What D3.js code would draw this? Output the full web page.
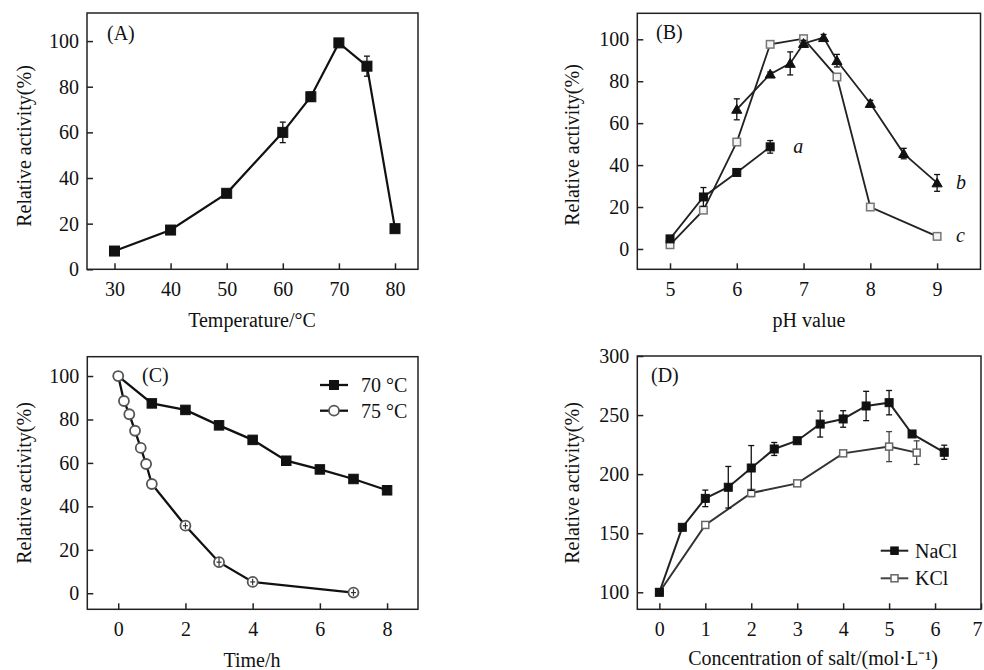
<!DOCTYPE html>
<html><head><meta charset="utf-8">
<script src="https://cdn.jsdelivr.net/npm/d3@7"></script>
<style>
body{margin:0;background:#fff;overflow:hidden}
text{font-family:"Liberation Serif","Times New Roman",serif;fill:#111}
</style>
</head><body>
<svg id="chart" width="984" height="670"></svg>
<script>
// ---------- DATA ----------
// (A) temperature
const tempX = [30, 40, 50, 60, 65, 70, 75, 80];
const tempY = [8, 17.2, 33.3, 60, 75.6, 99.2, 89, 17.8];
const tempErr = [0.5, 0.5, 0.8, 4.5, 2, 1, 4.4, 0.5];
const tempXTicks = [30, 40, 50, 60, 70, 80];
const pctTicks = [0, 20, 40, 60, 80, 100];

// (B) pH
const phAX = [5, 5.5, 6, 6.5];
const phAY = [4.8, 24.8, 36.5, 48.7];
const phAErr = [1, 4.5, 1, 3];
const phBX = [6, 6.5, 6.8, 7, 7.3, 7.5, 8, 8.5, 9];
const phBY = [66.6, 83.4, 88.5, 98, 100.8, 89.8, 69.4, 45.5, 31.5];
const phBErr = [5, 1, 5.5, 1.5, 1.5, 3, 1.5, 2.5, 4];
const phCX = [5, 5.5, 6, 6.5, 7, 7.5, 8, 9];
const phCY = [2, 18.5, 51, 97.6, 100.3, 82, 20, 6];
const phCErr = [1, 1, 1, 0.5, 1.5, 1.5, 0.5, 1];
const phXTicks = [5, 6, 7, 8, 9];
const phLabels = ["a", "b", "c"];

// (C) thermostability
const t70X = [0, 1, 2, 3, 4, 5, 6, 7, 8];
const t70Y = [100, 87.4, 84.4, 77.3, 70.6, 61, 57, 52.6, 47.4];
const t75X = [0, 0.17, 0.33, 0.5, 0.67, 0.83, 1, 2, 3, 4, 7];
const t75Y = [100, 88.5, 82.4, 74.8, 66.9, 59.5, 50.3, 31.1, 14.3, 5.2, 0.3];
const t75Err = [0, 0, 0, 0, 0, 0, 0, 1.5, 2, 1.5, 1.5];
const timeXTicks = [0, 2, 4, 6, 8];
const timeLegend = ["70 °C", "75 °C"];

// (D) salt
const naX = [0, 0.5, 1, 1.5, 2, 2.5, 3, 3.5, 4, 4.5, 5, 5.5, 6.2];
const naY = [100, 155, 179.5, 188.9, 205.2, 221.3, 228.3, 242.4, 246.7, 257.7, 260.5, 234, 218.5];
const naErr = [1, 2, 7, 17.6, 19, 5.5, 2, 11, 7, 12.4, 10.3, 2, 6];
const kX = [0, 1, 2, 3, 4, 5, 5.6];
const kY = [100, 157, 184, 192.2, 217.6, 223.3, 218.2];
const kErr = [1, 2, 3, 2, 1.5, 12.7, 10];
const saltXTicks = [0, 1, 2, 3, 4, 5, 6, 7];
const saltYTicks = [100, 150, 200, 250, 300];
const saltLegend = ["NaCl", "KCl"];

// ---------- DRAWING ----------
const svg = d3.select("#chart");
const FS = 20;

function panel(c) {
  const g = svg.append("g");
  const x = d3.scaleLinear().domain(c.xd).range([c.l, c.r]);
  const y = d3.scaleLinear().domain(c.yd).range([c.b, c.t]);
  const ax = g.append("g").attr("transform", `translate(0,${c.b})`)
    .call(d3.axisBottom(x).tickValues(c.xt).tickSize(-6).tickPadding(13).tickFormat(d3.format("d")));
  const ay = g.append("g").attr("transform", `translate(${c.l},0)`)
    .call(d3.axisLeft(y).tickValues(c.yt).tickSize(-6).tickPadding(8).tickFormat(d3.format("d")));
  [ax, ay].forEach(a => {
    a.select(".domain").remove();
    a.selectAll("line").attr("stroke", "#222").attr("stroke-width", 1.5);
    a.selectAll("text").style("font-size", FS + "px").style("font-family", '"Liberation Serif",serif').attr("fill", "#111");
  });
  // keep an edge tick label inside the page
  ax.selectAll(".tick text").filter(function () {
    return x(+d3.select(this.parentNode).datum()) > 975;
  }).attr("dx", -4);
  g.append("rect").attr("x", c.l).attr("y", c.t).attr("width", c.r - c.l).attr("height", c.b - c.t)
    .attr("fill", "none").attr("stroke", "#222").attr("stroke-width", 1.5);
  g.append("text").attr("x", c.tag[0]).attr("y", c.tag[1]).style("font-size", FS + "px").text(c.tagText);
  g.append("text").attr("x", c.xl[0]).attr("y", c.xl[1]).attr("text-anchor", "middle")
    .style("font-size", FS + "px").text(c.xlabel);
  g.append("text").attr("transform", `translate(${c.yl[0]},${c.yl[1]}) rotate(-90)`).attr("text-anchor", "middle")
    .style("font-size", FS + "px").text("Relative activity(%)");
  return { g, x, y };
}

function series(p, X, Y, E, o) {
  const idx = d3.range(X.length);
  const line = d3.line().x(i => p.x(X[i])).y(i => p.y(Y[i]));
  p.g.append("path").datum(idx).attr("d", line).attr("fill", "none")
    .attr("stroke", o.lineColor || "#111").attr("stroke-width", o.lw || 2);
  if (E) {
    idx.filter(i => E[i] > 0).forEach(i => {
      const cx = p.x(X[i]), y1 = p.y(Y[i] - E[i]), y2 = p.y(Y[i] + E[i]);
      const eg = p.g.append("g").attr("stroke", o.errColor || "#111").attr("stroke-width", 1.3);
      eg.append("line").attr("x1", cx).attr("x2", cx).attr("y1", y1).attr("y2", y2);
      eg.append("line").attr("x1", cx - 3).attr("x2", cx + 3).attr("y1", y1).attr("y2", y1);
      eg.append("line").attr("x1", cx - 3).attr("x2", cx + 3).attr("y1", y2).attr("y2", y2);
    });
  }
  const pts = idx.filter(i => !(o.skip && o.skip.includes(i)));
  pts.forEach(i => drawMarker(p.g, p.x(X[i]), p.y(Y[i]), o));
  if (E && o.errOver) {
    idx.filter(i => E[i] > 0).forEach(i => {
      const cx = p.x(X[i]), y1 = p.y(Y[i] - E[i]), y2 = p.y(Y[i] + E[i]);
      const eg = p.g.append("g").attr("stroke", o.errOver).attr("stroke-width", 1.2);
      eg.append("line").attr("x1", cx).attr("x2", cx).attr("y1", y1).attr("y2", y2);
      eg.append("line").attr("x1", cx - 2.5).attr("x2", cx + 2.5).attr("y1", p.y(Y[i])).attr("y2", p.y(Y[i]));
    });
  }
}

function drawMarker(g, cx, cy, o) {
  const s = o.size;
  if (o.shape === "square") {
    g.append("rect").attr("x", cx - s / 2).attr("y", cy - s / 2).attr("width", s).attr("height", s)
      .attr("fill", o.fill).attr("stroke", o.stroke).attr("stroke-width", o.sw || 1);
  } else if (o.shape === "circle") {
    g.append("circle").attr("cx", cx).attr("cy", cy).attr("r", s / 2)
      .attr("fill", o.fill).attr("stroke", o.stroke).attr("stroke-width", o.sw || 1.5);
  } else if (o.shape === "triangle") {
    g.append("path").attr("transform", `translate(${cx},${cy + 1})`)
      .attr("d", d3.symbol(d3.symbolTriangle, s * s * 0.45)())
      .attr("fill", o.fill).attr("stroke", o.stroke).attr("stroke-width", o.sw || 1);
  }
}

// ----- Panel A -----
const pA = panel({ l: 87, r: 418, t: 13, b: 269.3, xd: [25.1, 84.1], yd: [0, 112.3],
  xt: tempXTicks, yt: pctTicks, tag: [107, 40], tagText: "(A)",
  xl: [252, 327], xlabel: "Temperature/°C", yl: [31, 146] });
series(pA, tempX, tempY, tempErr, { shape: "square", size: 10, fill: "#111", stroke: "#111", lw: 2.2 });

// ----- Panel B -----
const pB = panel({ l: 637.3, r: 980.5, t: 13.3, b: 269.3, xd: [4.51, 9.65], yd: [-9.7, 112.4],
  xt: phXTicks, yt: pctTicks, tag: [656, 39], tagText: "(B)",
  xl: [809, 327], xlabel: "pH value", yl: [579, 145] });
series(pB, phCX, phCY, phCErr, { shape: "square", size: 7.5, fill: "#f4f4f4", stroke: "#777", sw: 1.5, lw: 1.8, lineColor: "#222", errColor: "#777" });
series(pB, phAX, phAY, phAErr, { shape: "square", size: 8, fill: "#111", stroke: "#111", lw: 1.8, lineColor: "#222" });
series(pB, phBX, phBY, phBErr, { shape: "triangle", size: 10, fill: "#111", stroke: "#111", lw: 1.8, lineColor: "#222" });
const labPos = [[phAX[3], phAY[3]], [phBX[8], phBY[8]], [phCX[7], phCY[7]]];
labPos.forEach((d, i) => {
  pB.g.append("text").attr("x", pB.x(d[0]) + (i === 0 ? 23 : 19)).attr("y", pB.y(d[1]) + 6)
    .style("font-size", FS + "px").style("font-style", "italic").text(phLabels[i]);
});

// ----- Panel C -----
const pC = panel({ l: 87.3, r: 418, t: 356.7, b: 609.3, xd: [-0.92, 8.92], yd: [-7.4, 108.9],
  xt: timeXTicks, yt: pctTicks, tag: [142, 382], tagText: "(C)",
  xl: [252, 667], xlabel: "Time/h", yl: [31, 483] });
series(pC, t70X, t70Y, null, { shape: "square", size: 9.5, fill: "#111", stroke: "#111", lw: 2.3, skip: [0] });
series(pC, t75X, t75Y, t75Err, { shape: "circle", size: 10, fill: "#fff", stroke: "#555", sw: 1.8, lw: 2.3, errOver: "#333" });
// legend C
const legC = [{ y: 385, o: { shape: "square", size: 9, fill: "#111", stroke: "#111" } },
              { y: 410.7, o: { shape: "circle", size: 10, fill: "#fff", stroke: "#555", sw: 1.8 } }];
legC.forEach((d, i) => {
  pC.g.append("line").attr("x1", 320).attr("x2", 348).attr("y1", d.y).attr("y2", d.y).attr("stroke", "#111").attr("stroke-width", 2.3);
  drawMarker(pC.g, 334, d.y, d.o);
  pC.g.append("text").attr("x", 361).attr("y", d.y + 7).style("font-size", FS + "px").text(timeLegend[i]);
});

// ----- Panel D -----
const pD = panel({ l: 637.3, r: 981, t: 356, b: 609.3, xd: [-0.48, 7.0], yd: [85.6, 300],
  xt: saltXTicks, yt: saltYTicks, tag: [651, 382], tagText: "(D)",
  xl: [813, 665], xlabel: "Concentration of salt/(mol·L\u207B\u00B9)", yl: [579, 483] });
series(pD, kX, kY, kErr, { shape: "square", size: 7, fill: "#fff", stroke: "#666", sw: 1.5, lw: 2, lineColor: "#333", errColor: "#444" });
series(pD, naX, naY, naErr, { shape: "square", size: 8, fill: "#111", stroke: "#111", lw: 2, lineColor: "#222" });
const legD = [{ y: 550.7, o: { shape: "square", size: 7.5, fill: "#111", stroke: "#111" }, c: "#222" },
              { y: 578.3, o: { shape: "square", size: 7, fill: "#fff", stroke: "#666", sw: 1.5 }, c: "#444" }];
legD.forEach((d, i) => {
  pD.g.append("line").attr("x1", 880.7).attr("x2", 908.3).attr("y1", d.y).attr("y2", d.y).attr("stroke", d.c).attr("stroke-width", 2);
  drawMarker(pD.g, 894.5, d.y, d.o);
  pD.g.append("text").attr("x", 915).attr("y", d.y + 7).style("font-size", FS + "px").text(saltLegend[i]);
});
</script>
</body></html>
